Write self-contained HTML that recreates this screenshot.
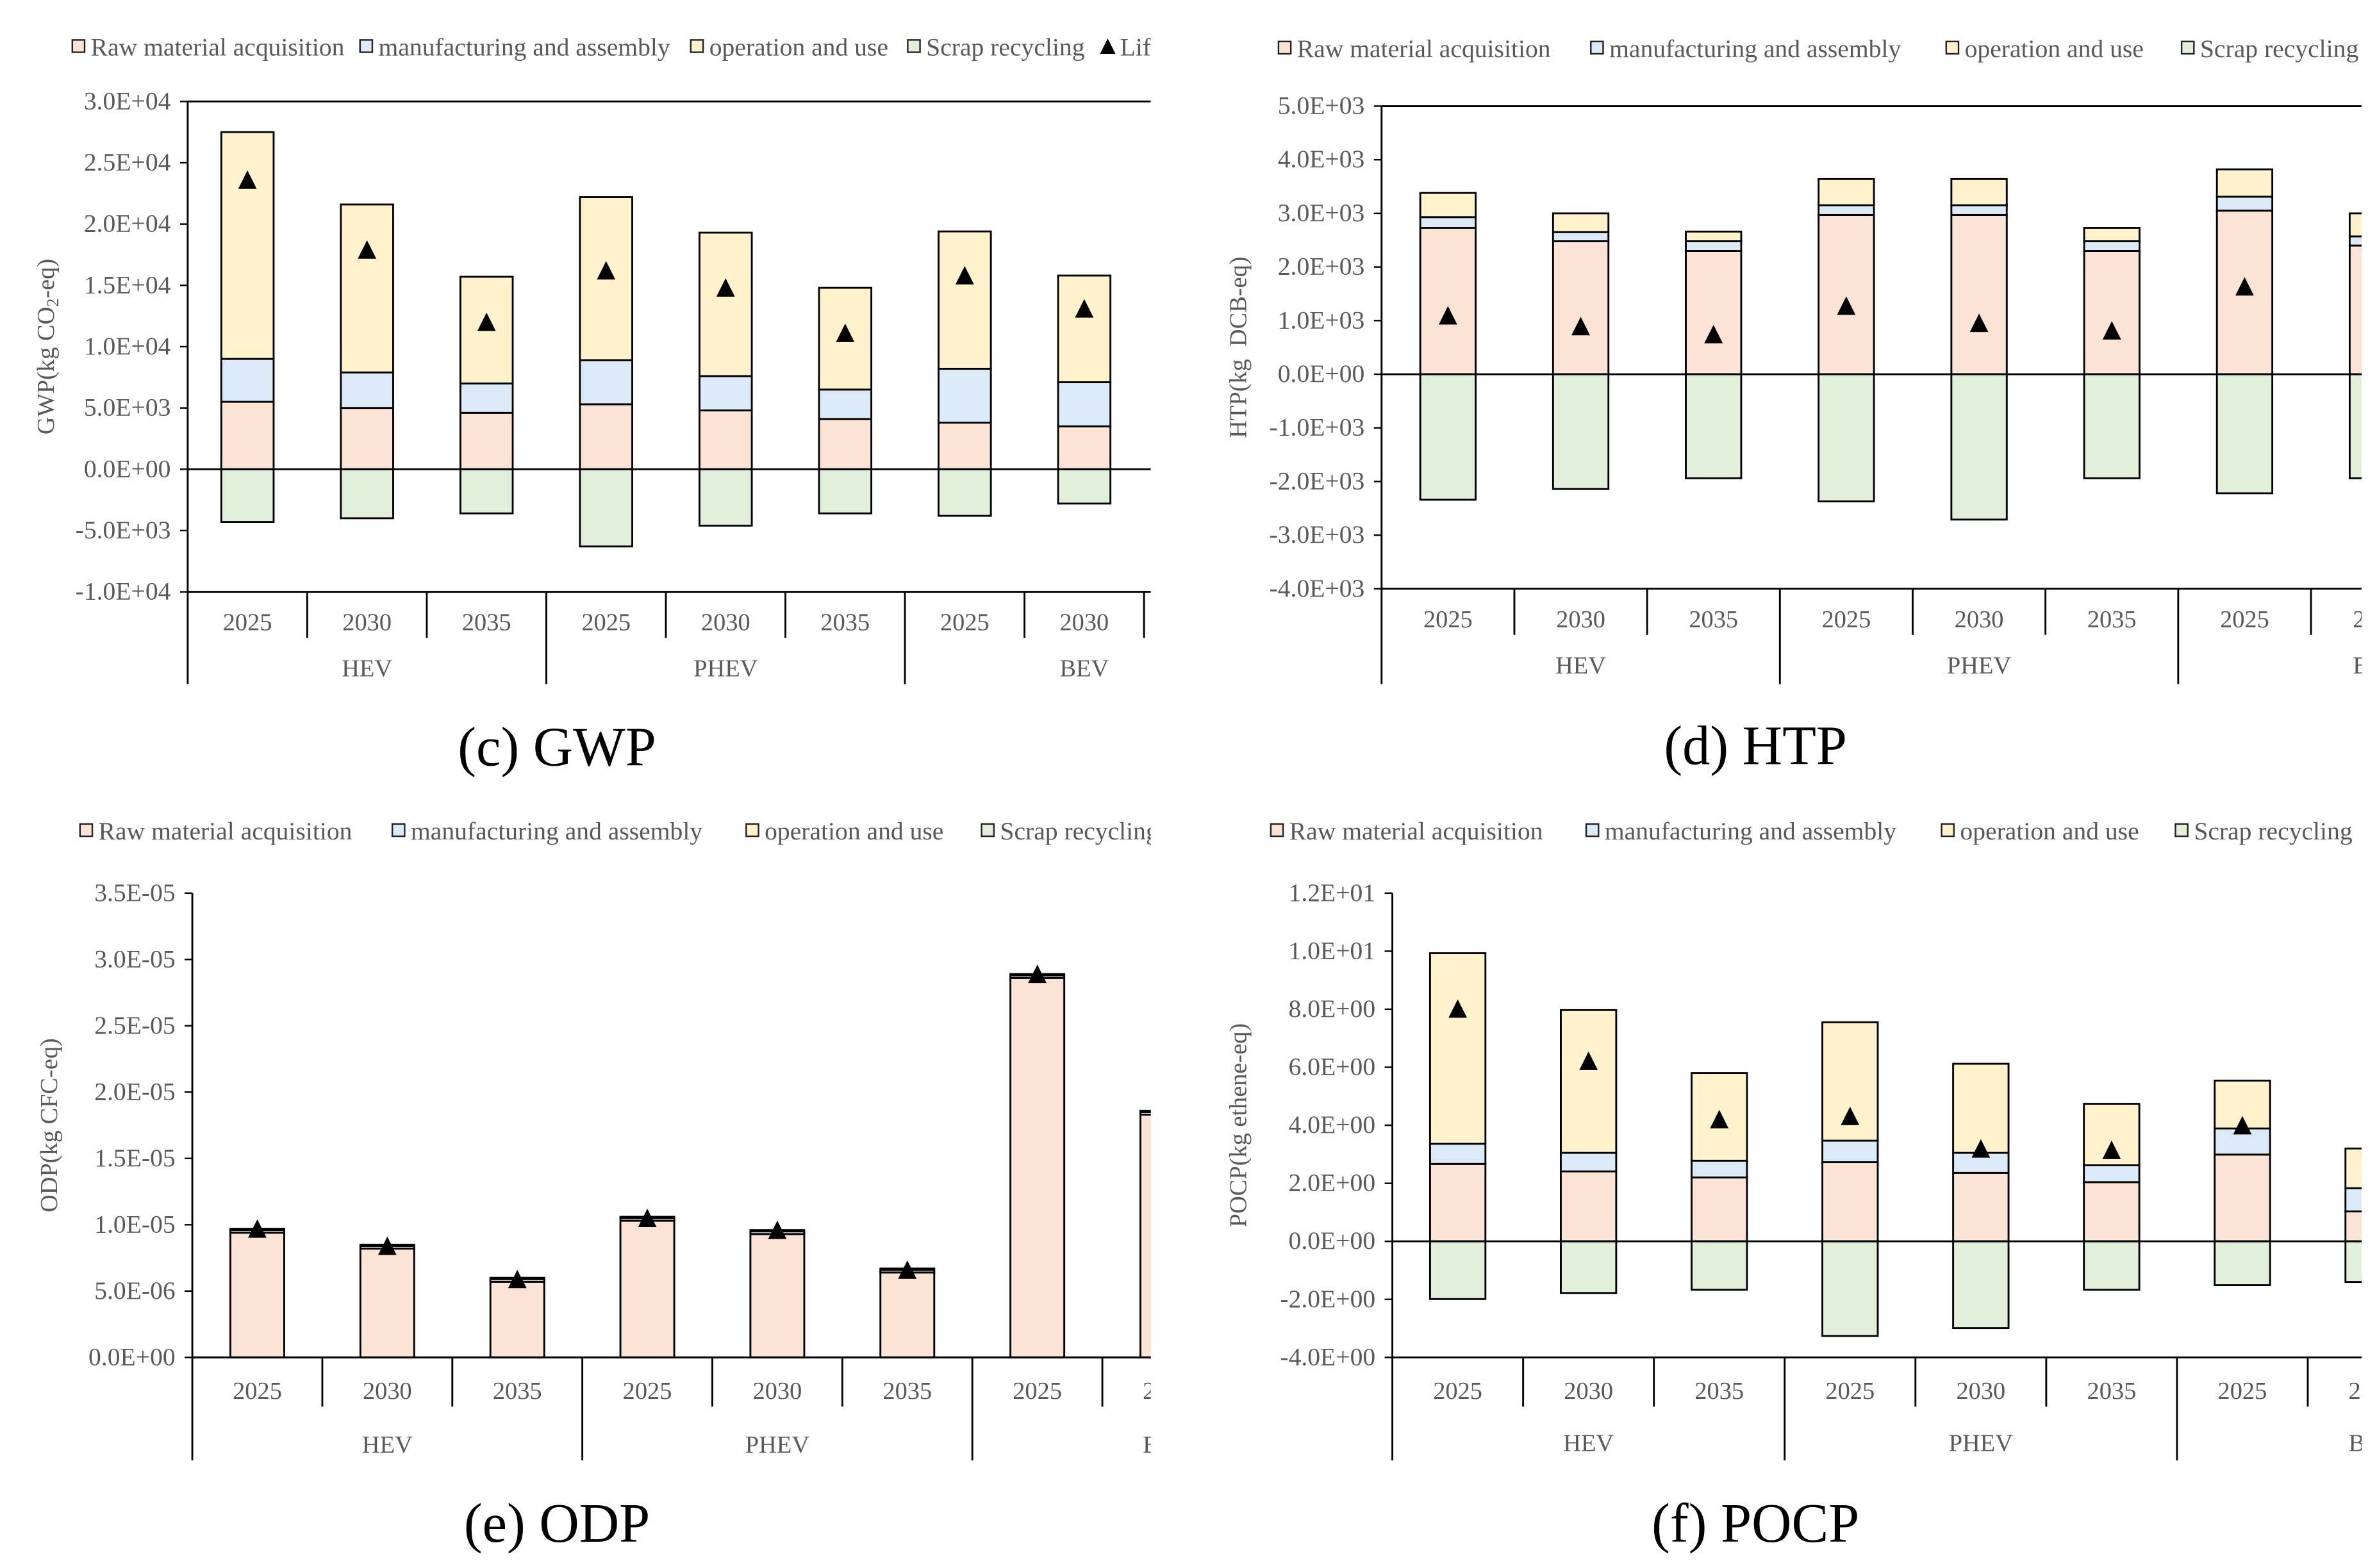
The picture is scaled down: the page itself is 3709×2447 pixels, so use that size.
<!DOCTYPE html>
<html><head><meta charset="utf-8">
<style>
html,body{margin:0;padding:0;background:#fff;}
svg{display:block;}
text{font-family:"Liberation Serif",serif;}
</style></head>
<body>
<svg id="fig" width="3709" height="2447" viewBox="0 0 1545 1020" preserveAspectRatio="none" xmlns="http://www.w3.org/2000/svg"></svg>
<script>
const categories = ["2025","2030","2035","2025","2030","2035","2025","2030"];
const groups = ["HEV","PHEV","BEV"];
const legendLabels = ["Raw material acquisition","manufacturing and assembly","operation and use","Scrap recycling","Life cycle"];

const gwpRaw = [5500,5000,4600,5300,4800,4100,3800,3500];
const gwpMfg = [3500,2900,2400,3600,2800,2400,4400,3600];
const gwpOp = [18500,13700,8700,13300,11700,8300,11200,8700];
const gwpScrap = [-4300,-4000,-3600,-6300,-4600,-3600,-3800,-2800];
const gwpTotal = [23500,17800,11900,16100,14700,11000,15700,13000];
const gwpTicks = ["3.0E+04","2.5E+04","2.0E+04","1.5E+04","1.0E+04","5.0E+03","0.0E+00","-5.0E+03","-1.0E+04"];

const htpRaw = [2730,2480,2300,2970,2970,2300,3050,2400];
const htpMfg = [200,170,180,180,180,180,260,170];
const htpOp = [450,350,180,490,490,250,510,430];
const htpScrap = [-2340,-2140,-1940,-2370,-2710,-1940,-2220,-1940];
const htpTotal = [1070,870,720,1250,930,790,1610,1000];
const htpTicks = ["5.0E+03","4.0E+03","3.0E+03","2.0E+03","1.0E+03","0.0E+00","-1.0E+03","-2.0E+03","-3.0E+03","-4.0E+03"];

const odpRaw = [9.4e-6,8.2e-6,5.7e-6,10.3e-6,9.3e-6,6.4e-6,28.6e-6,18.3e-6];
const odpMfg = [0.2e-6,0.2e-6,0.2e-6,0.2e-6,0.2e-6,0.2e-6,0.2e-6,0.2e-6];
const odpOp = [0.1e-6,0.1e-6,0.1e-6,0.1e-6,0.1e-6,0.1e-6,0.1e-6,0.1e-6];
const odpScrap = [0,0,0,0,0,0,0,0];
const odpTotal = [9.6e-6,8.3e-6,5.8e-6,10.4e-6,9.5e-6,6.5e-6,28.8e-6,18.5e-6];
const odpTicks = ["3.5E-05","3.0E-05","2.5E-05","2.0E-05","1.5E-05","1.0E-05","5.0E-06","0.0E+00"];

const pocpRaw = [2.67,2.41,2.2,2.73,2.36,2.04,2.99,1.03];
const pocpMfg = [0.69,0.64,0.58,0.74,0.69,0.58,0.9,0.8];
const pocpOp = [6.57,4.92,3.02,4.08,3.07,2.12,1.65,1.37];
const pocpScrap = [-1.99,-1.78,-1.67,-3.26,-2.99,-1.67,-1.51,-1.40];
const pocpTotal = [7.97,6.17,4.16,4.27,3.15,3.1,3.95,3.0];
const pocpTicks = ["1.2E+01","1.0E+01","8.0E+00","6.0E+00","4.0E+00","2.0E+00","0.0E+00","-2.0E+00","-4.0E+00"];

const NS="http://www.w3.org/2000/svg";
const svg=document.getElementById('fig');
const COLORS=["#fbe3d6","#dce9f6","#fff2cc","#e2efda"];
function mk(tag,attrs,parent){const e=document.createElementNS(NS,tag);for(const k in attrs)e.setAttribute(k,attrs[k]);(parent||svg).appendChild(e);return e;}

function panel(p){
  const g=mk('g',{});
  
  
  const cid='clip-'+p.name;
  const cp=mk('clipPath',{id:cid},g);
  mk('rect',{x:0,y:0,width:p.clipX,height:1020},cp);
  const cg=mk('g',{'clip-path':'url(#'+cid+')'},g);
  const ymax=p.ymax,ymin=p.ymin;
  const y=v=>p.yTop+(ymax-v)/(ymax-ymin)*(p.yBot-p.yTop);
  const cx=i=>p.x0+(i+0.5)*p.catW;
  p.legendX.forEach((lx,i)=>{
    const li=mk('g',{},cg);
    
    
    if(i<4) mk('rect',{x:lx,y:p.legendY-5,width:8,height:8,fill:COLORS[i],stroke:'#222','stroke-width':1},li);
    else mk('path',{d:`M${lx+4},${p.legendY-6} L${lx+9},${p.legendY+4} L${lx-1},${p.legendY+4} Z`,fill:'#000'},li);
    const t=mk('text',{x:lx+12,y:p.legendY+5,'font-size':16.5,fill:'#595959'},li);
    t.textContent=legendLabels[i];
  });
  const ax=mk('g',{},cg);
  
  
  p.ticks.forEach((lab,i)=>{
    const yy=p.yTop+i*(p.yBot-p.yTop)/(p.ticks.length-1);
    mk('line',{x1:p.x0-5,x2:p.x0,y1:yy,y2:yy,stroke:'#000','stroke-width':1},ax);
    const t=mk('text',{x:p.x0-11,y:yy+5,'font-size':16.5,fill:'#595959','text-anchor':'end'},ax);
    t.textContent=lab;
  });
  mk('line',{x1:p.x0,x2:p.x0,y1:p.yTop,y2:p.yBot,stroke:'#000','stroke-width':1.2},ax);
  if(p.topLine) mk('line',{x1:p.x0,x2:p.clipX,y1:p.yTop,y2:p.yTop,stroke:'#000','stroke-width':1.2},ax);
  const tt=mk('text',{x:0,y:0,'font-size':16,fill:'#595959','text-anchor':'middle',transform:`translate(${p.titleX},${(p.yTop+p.yBot)/2}) rotate(-90)`},ax);
  
  
  tt.innerHTML=p.title;
  const bw=p.bw;
  categories.forEach((c,i)=>{
    const b=mk('g',{},cg);
    
    
    let base=0;
    [p.raw[i],p.mfg[i],p.op[i]].forEach((v,k)=>{
      mk('rect',{x:cx(i)-bw/2,y:y(base+v),width:bw,height:Math.max(0,y(base)-y(base+v)),fill:COLORS[k],stroke:'#000','stroke-width':1.2},b);
      base+=v;
    });
    if(p.scrap[i]<0) mk('rect',{x:cx(i)-bw/2,y:y(0),width:bw,height:y(p.scrap[i])-y(0),fill:COLORS[3],stroke:'#000','stroke-width':1.2},b);
    const ty=y(p.total[i]);
    const m=mk('path',{d:`M${cx(i)},${ty-7} L${cx(i)+6},${ty+5} L${cx(i)-6},${ty+5} Z`,fill:'#000'},cg);
    
    
  });
  mk('line',{x1:p.x0,x2:p.clipX,y1:y(0),y2:y(0),stroke:'#000','stroke-width':1.2},cg);
  const ca=mk('g',{},cg);
  
  
  mk('line',{x1:p.x0,x2:p.clipX,y1:p.yBot,y2:p.yBot,stroke:'#000','stroke-width':1.2},ca);
  for(let k=0;k<=9;k++){
    const xx=p.x0+k*p.catW;
    mk('line',{x1:xx,x2:xx,y1:p.yBot,y2:k%3==0?p.grpLine:p.yrLine,stroke:'#000','stroke-width':1.2},ca);
  }
  categories.concat(["2035"]).forEach((c,i)=>{
    const t=mk('text',{x:cx(i),y:p.yrY+5,'font-size':16,fill:'#595959','text-anchor':'middle'},ca);
    t.textContent=c;
  });
  groups.forEach((gname,j)=>{
    const t=mk('text',{x:p.x0+(j*3+1.5)*p.catW,y:p.grpY+5,'font-size':16,fill:'#595959','text-anchor':'middle'},ca);
    t.textContent=gname;
  });
  const cap=mk('text',{x:p.capX,y:p.capY,'font-size':36,fill:'#000','text-anchor':'middle'},g);
  
  
  cap.textContent=p.caption;
}

panel({name:'gwp',x0:122,catW:77.7,bw:34,clipX:748,yTop:66,yBot:385,ymax:30000,ymin:-10000,ticks:gwpTicks,
  raw:gwpRaw,mfg:gwpMfg,op:gwpOp,scrap:gwpScrap,total:gwpTotal,topLine:true,
  title:'GWP(kg CO<tspan font-size="11" dy="3">2</tspan><tspan dy="-3">-eq)</tspan>',titleX:35,
  legendX:[47,234,449,590,716],legendY:31,yrY:405,grpY:435,yrLine:415,grpLine:445,caption:'(c) GWP',capX:362,capY:498});
panel({name:'htp',x0:898,catW:86.3,bw:36,clipX:1535,yTop:69,yBot:383,ymax:5000,ymin:-4000,ticks:htpTicks,
  raw:htpRaw,mfg:htpMfg,op:htpOp,scrap:htpScrap,total:htpTotal,topLine:true,
  title:'HTP(kg&#160;&#160;DCB-eq)',titleX:810,
  legendX:[831,1034,1265,1418],legendY:32,yrY:403,grpY:433,yrLine:413,grpLine:445,caption:'(d) HTP',capX:1141,capY:497});
panel({name:'odp',x0:125,catW:84.5,bw:35,clipX:748,yTop:581,yBot:883,ymax:3.5e-5,ymin:0,ticks:odpTicks,
  raw:odpRaw,mfg:odpMfg,op:odpOp,scrap:odpScrap,total:odpTotal,topLine:false,
  title:'ODP(kg CFC-eq)',titleX:37,
  legendX:[52,255,485,638],legendY:541,yrY:905,grpY:940,yrLine:915,grpLine:950,caption:'(e) ODP',capX:362,capY:1003});
panel({name:'pocp',x0:905,catW:85,bw:36,clipX:1535,yTop:581,yBot:883,ymax:12,ymin:-4,ticks:pocpTicks,
  raw:pocpRaw,mfg:pocpMfg,op:pocpOp,scrap:pocpScrap,total:pocpTotal,topLine:false,
  title:'POCP(kg ethene-eq)',titleX:810,
  legendX:[826,1031,1262,1414],legendY:541,yrY:905,grpY:939,yrLine:915,grpLine:950,caption:'(f) POCP',capX:1141,capY:1003});
</script>
</body></html>
